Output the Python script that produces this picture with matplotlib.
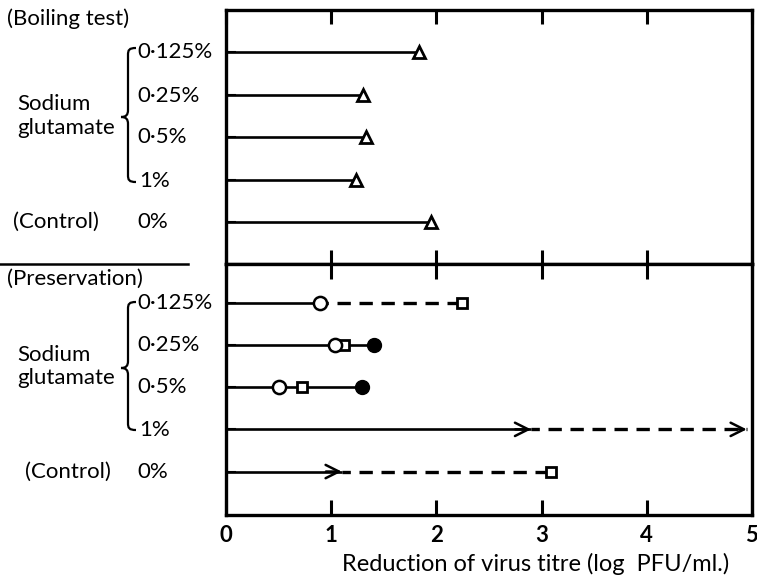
import numpy as np
import matplotlib
matplotlib.use("Agg")
import matplotlib.pyplot as plt
from matplotlib.path import Path
from matplotlib.patches import PathPatch
from matplotlib.lines import Line2D

plt.rcParams['font.family'] = ['Lato', 'DejaVu Sans']

# ---------------- data ----------------
conc_labels = ['0·125%', '0·25%', '0·5%', '1%', '0%']
boiling_values = [1.83, 1.30, 1.33, 1.24, 1.95]

pres_solid_end = [0.89, 1.41, 1.29, 2.90, 1.10]
pres_dashed_end = [2.24, np.nan, np.nan, 4.95, 3.09]
pres_open_circle = [0.89, 1.04, 0.50, np.nan, np.nan]
pres_open_square = [2.24, 1.12, 0.72, np.nan, 3.09]
pres_filled_circle = [np.nan, 1.41, 1.29, np.nan, np.nan]
pres_arrow_at = [np.nan, np.nan, np.nan, 2.90, 1.10]
pres_arrow_end = [np.nan, np.nan, np.nan, 4.95, np.nan]

x_ticks = [0, 1, 2, 3, 4, 5]
x_label = 'Reduction of virus titre (log  PFU/ml.)'

# ---------------- layout ----------------
W, H = 757, 578
fig = plt.figure(figsize=(W / 100, H / 100), dpi=100)

def fx(px):
    return px / W

def fy(py):
    return 1 - py / H

X0, X1 = 226, 752
Y_TOP, Y_MID, Y_BOT = 10, 264, 515

ax_top = fig.add_axes([fx(X0), fy(Y_MID), fx(X1) - fx(X0), (Y_MID - Y_TOP) / H])
ax_bot = fig.add_axes([fx(X0), fy(Y_BOT), fx(X1) - fx(X0), (Y_BOT - Y_MID) / H])

rows = np.arange(1, 6)
SPINE_LW = 2.4
LINE_LW = 1.9
FS = 16

for ax in (ax_top, ax_bot):
    ax.set_xlim(0, 5)
    for s in ax.spines.values():
        s.set_linewidth(SPINE_LW)
    ax.set_xticks(x_ticks)
    ax.set_yticks(rows)
    ax.set_yticklabels([])
    ax.tick_params(axis='y', direction='in', length=7, width=1.5, left=True, right=False)

ax_top.set_ylim(5.98, 0.0)
ax_bot.set_ylim(6.03, 0.08)

ax_top.tick_params(axis='x', which='both', direction='in', top=True, bottom=True,
                   labeltop=False, labelbottom=False, length=10, width=2.2)
ax_bot.tick_params(axis='x', which='both', direction='in', top=True, bottom=True,
                   labeltop=False, labelbottom=True, length=11, width=2.2,
                   labelsize=FS, pad=7)
for lab in ax_bot.get_xticklabels():
    lab.set_fontweight('bold')

# -------- top panel: boiling test --------
for y, v in zip(rows, boiling_values):
    ax_top.plot([0, v], [y, y], color='black', lw=LINE_LW, solid_capstyle='butt', zorder=2)
ax_top.plot(boiling_values, rows, linestyle='none', marker='^', markersize=8,
            markerfacecolor='white', markeredgecolor='black', markeredgewidth=2.0, zorder=3)

# -------- bottom panel: preservation --------
for y, se, de in zip(rows, pres_solid_end, pres_dashed_end):
    ax_bot.plot([0, se], [y, y], color='black', lw=LINE_LW, solid_capstyle='butt', zorder=2)
    if not np.isnan(de):
        ax_bot.plot([se, de], [y, y], color='black', lw=2.4, linestyle=(1.5, (4, 2.6)),
                    dash_capstyle='butt', zorder=2)

ax_bot.plot(pres_open_circle, rows, linestyle='none', marker='o', markersize=9.5,
            markerfacecolor='white', markeredgecolor='black', markeredgewidth=1.8, zorder=4)
ax_bot.plot(pres_open_square, rows, linestyle='none', marker='s', markersize=6.5,
            markerfacecolor='white', markeredgecolor='black', markeredgewidth=2.0, zorder=3)
ax_bot.plot(pres_filled_circle, rows, linestyle='none', marker='o', markersize=10,
            markerfacecolor='black', markeredgecolor='black', zorder=4)

for y, a in zip(rows, pres_arrow_at):
    if not np.isnan(a):
        ax_bot.annotate('', xy=(a, y), xytext=(a - 0.15, y),
                        arrowprops=dict(arrowstyle='->', lw=1.8, color='black',
                                        mutation_scale=24, shrinkA=0, shrinkB=0), zorder=5)
for y, a in zip(rows, pres_arrow_end):
    if not np.isnan(a):
        ax_bot.annotate('', xy=(a, y), xytext=(a - 0.15, y),
                        arrowprops=dict(arrowstyle='->', lw=1.8, color='black',
                                        mutation_scale=24, shrinkA=0, shrinkB=0), zorder=5)

# -------- left-hand labels --------
def text(px, py, s, **kw):
    kw.setdefault('ha', 'left')
    kw.setdefault('fontsize', FS)
    fig.text(fx(px), fy(py), s, va='center', **kw)

def brace(x_tip, x_spine, x_point, y_top, y_bot, y_mid):
    verts = [
        (x_tip, y_top),
        (x_spine + 1, y_top), (x_spine, y_top + 2), (x_spine, y_top + 7),
        (x_spine, y_mid - 7),
        (x_spine, y_mid - 2), (x_spine - 2, y_mid), (x_point, y_mid),
        (x_spine - 2, y_mid), (x_spine, y_mid + 2), (x_spine, y_mid + 7),
        (x_spine, y_bot - 7),
        (x_spine, y_bot - 2), (x_spine + 1, y_bot), (x_tip, y_bot),
    ]
    codes = [Path.MOVETO,
             Path.CURVE4, Path.CURVE4, Path.CURVE4,
             Path.LINETO,
             Path.CURVE4, Path.CURVE4, Path.CURVE4,
             Path.CURVE4, Path.CURVE4, Path.CURVE4,
             Path.LINETO,
             Path.CURVE4, Path.CURVE4, Path.CURVE4]
    verts = [(fx(a), fy(b)) for a, b in verts]
    fig.add_artist(PathPatch(Path(verts, codes), transform=fig.transFigure,
                             facecolor='none', edgecolor='black', lw=1.6))

top_rows_px = [52, 96, 137, 181, 222]
bot_rows_px = [303, 345, 387, 430, 472]

text(7, 19, '(Boiling test)')
text(17, 104, 'Sodium')
text(17, 128, 'glutamate')
text(13, 222, '(Control)')
for lab, py in zip(conc_labels, top_rows_px):
    text(137 if lab != '1%' else 139, py, lab)
brace(136, 128, 121, 48, 182, 117)

text(7, 279, '(Preservation)')
text(17, 355, 'Sodium')
text(17, 378, 'glutamate')
text(25, 472, '(Control)')
for lab, py in zip(conc_labels, bot_rows_px):
    text(137 if lab != '1%' else 139, py, lab)
brace(136, 128, 121, 302, 430, 368)

# x-axis title (placed right of centre, as in the original)
text(536, 564, x_label, ha='center', fontsize=17)

fig.add_artist(Line2D([fx(0), fx(188)], [fy(264), fy(264)], transform=fig.transFigure,
                      color='black', lw=1.8))

fig.savefig('out.png', dpi=100)
